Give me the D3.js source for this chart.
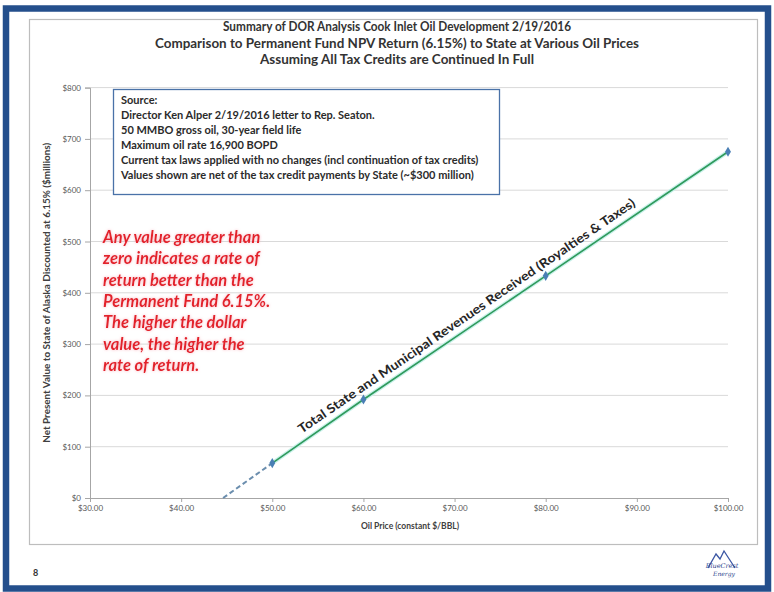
<!DOCTYPE html>
<html>
<head>
<meta charset="utf-8">
<script src="https://cdn.jsdelivr.net/npm/d3@7"></script>
<style>
  html, body { margin: 0; padding: 0; background: #ffffff; }
  svg { display: block; }
</style>
</head>
<body>
<svg id="chart" width="774" height="592"></svg>
<script>
// Oil price scenarios ($/BBL) and State NPV at 6.15% ($ millions)
const prices = [50, 60, 80, 100];
const npvValues = [68, 192, 433, 675];
// Price at which the State NPV reaches zero (dashed extension)
const breakEvenPrice = 44.6;

const xTickValues = [30, 40, 50, 60, 70, 80, 90, 100];
const yTickValues = [0, 100, 200, 300, 400, 500, 600, 700, 800];

const titleLines = [
  "Summary of DOR Analysis Cook Inlet Oil Development 2/19/2016",
  "Comparison to Permanent Fund NPV Return (6.15%) to State at Various Oil Prices",
  "Assuming All Tax Credits are Continued In Full"
];
const sourceLines = [
  "Source:",
  "Director Ken Alper 2/19/2016 letter to Rep. Seaton.",
  "50 MMBO gross oil, 30-year field life",
  "Maximum oil rate 16,900 BOPD",
  "Current tax laws applied with no changes (incl continuation of tax credits)",
  "Values shown are net of the tax credit payments by State (~$300 million)"
];
const noteLines = [
  "Any value greater than",
  "zero indicates a rate of",
  "return better than the",
  "Permanent Fund 6.15%.",
  "The higher the dollar",
  "value, the higher the",
  "rate of return."
];
const seriesLabel = "Total State and Municipal Revenues Received (Royalties & Taxes)";
const xAxisTitle = "Oil Price (constant $/BBL)";
const yAxisTitle = "Net Present Value to State of Alaska Discounted at 6.15% ($millions)";

const svg = d3.select("#chart");
const font = "Lato, 'Open Sans', sans-serif";

// Slide frame
svg.append("rect")
  .attr("x", 6).attr("y", 8.5).attr("width", 762).attr("height", 580)
  .attr("fill", "#ffffff").attr("stroke", "#244f8c").attr("stroke-width", 6.5);

// Chart area border
svg.append("rect")
  .attr("x", 29.5).attr("y", 19.5).attr("width", 728).attr("height", 525)
  .attr("fill", "#ffffff").attr("stroke", "#bdbdbd").attr("stroke-width", 1.2);

// Titles
const titleWidths = [348, 484, 274];
svg.append("g").selectAll("text").data(titleLines).join("text")
  .attr("x", 397).attr("y", (d, i) => 31 + i * 16.5)
  .attr("text-anchor", "middle")
  .attr("font-family", font).attr("font-weight", 700).attr("font-size", 12.5)
  .attr("fill", "#333333")
  .attr("textLength", (d, i) => titleWidths[i]).attr("lengthAdjust", "spacingAndGlyphs")
  .text(d => d);

// Scales
const x = d3.scaleLinear().domain([30, 100]).range([90, 728]);
const y = d3.scaleLinear().domain([0, 800]).range([498, 87.6]);

// Gridlines
svg.append("g").selectAll("line").data(yTickValues.filter(v => v > 0)).join("line")
  .attr("x1", x(30)).attr("x2", x(100))
  .attr("y1", d => y(d)).attr("y2", d => y(d))
  .attr("stroke", "#d9d9d9").attr("stroke-width", 1);

// Y axis
const yAxis = d3.axisLeft(y).tickValues(yTickValues).tickFormat(d3.format("$,")).tickSize(5).tickPadding(4);
const gy = svg.append("g").attr("transform", `translate(${x(30)},0)`).call(yAxis);
gy.select(".domain").attr("stroke", "#a6a6a6");
gy.selectAll(".tick line").attr("stroke", "#a6a6a6");
gy.selectAll(".tick text").attr("font-family", font).attr("font-size", 8).attr("fill", "#595959");

// X axis
const xAxis = d3.axisBottom(x).tickValues(xTickValues).tickFormat(d3.format("$.2f")).tickSize(4).tickPadding(3);
const gx = svg.append("g").attr("transform", `translate(0,${y(0)})`).call(xAxis);
gx.select(".domain").attr("stroke", "#a6a6a6");
gx.selectAll(".tick line").attr("stroke", "#a6a6a6");
gx.selectAll(".tick text").attr("font-family", font).attr("font-size", 8).attr("fill", "#595959");

// Axis titles
svg.append("text")
  .attr("x", (x(30) + x(100)) / 2 + 1).attr("y", 529)
  .attr("text-anchor", "middle")
  .attr("font-family", font).attr("font-weight", 700).attr("font-size", 8.5).attr("fill", "#404040")
  .text(xAxisTitle);
svg.append("text")
  .attr("transform", `translate(50,${(y(0) + y(800)) / 2}) rotate(-90)`)
  .attr("text-anchor", "middle")
  .attr("font-family", font).attr("font-weight", 700).attr("font-size", 8.5).attr("fill", "#404040")
  .attr("textLength", 300).attr("lengthAdjust", "spacingAndGlyphs")
  .text(yAxisTitle);

// Source text box
const box = svg.append("g");
box.append("rect")
  .attr("x", 113.5).attr("y", 89.5).attr("width", 386).attr("height", 105)
  .attr("fill", "#ffffff").attr("stroke", "#4a72a8").attr("stroke-width", 1.3);
box.selectAll("text").data(sourceLines).join("text")
  .attr("x", 121).attr("y", (d, i) => 104 + i * 15)
  .attr("font-family", font).attr("font-weight", 700).attr("font-size", 11)
  .attr("fill", "#2b2b2b")
  .text(d => d);

// Red note with a soft pink halo
const defs = svg.append("defs");
const glow = defs.append("filter").attr("id", "glow").attr("x", "-10%").attr("y", "-30%").attr("width", "120%").attr("height", "160%");
glow.append("feGaussianBlur").attr("in", "SourceAlpha").attr("stdDeviation", 1.8).attr("result", "b");
glow.append("feFlood").attr("flood-color", "#f7a8b4").attr("flood-opacity", 0.85);
glow.append("feComposite").attr("in2", "b").attr("operator", "in").attr("result", "g");
const gm = glow.append("feMerge");
gm.append("feMergeNode").attr("in", "g");
gm.append("feMergeNode").attr("in", "SourceGraphic");

svg.append("g").selectAll("text").data(noteLines).join("text")
  .attr("x", 103).attr("y", (d, i) => 243 + i * 21.3)
  .attr("font-family", font).attr("font-weight", 700).attr("font-style", "italic").attr("font-size", 16.5)
  .attr("fill", "#e3202c").attr("filter", "url(#glow)")
  .text(d => d);

// Dashed extension down to zero NPV
svg.append("line")
  .attr("x1", x(breakEvenPrice)).attr("y1", y(0))
  .attr("x2", x(prices[0])).attr("y2", y(npvValues[0]))
  .attr("stroke", "#6b8eae").attr("stroke-width", 2).attr("stroke-dasharray", "5,3");

// Revenue line
const pts = prices.map((p, i) => [x(p), y(npvValues[i])]);
const lineGen = d3.line();
svg.append("path").attr("d", lineGen(pts))
  .attr("fill", "none").attr("stroke", "#c9f1ea").attr("stroke-width", 4);
svg.append("path").attr("d", lineGen(pts))
  .attr("fill", "none").attr("stroke", "#2f9a5c").attr("stroke-width", 1.6);

// Diamond markers
svg.append("g").selectAll("path").data(pts).join("path")
  .attr("transform", d => `translate(${d[0]},${d[1]})`)
  .attr("d", d3.symbol(d3.symbolDiamond, 30))
  .attr("fill", "#4a7fb5");

// Series label laid along the line
const angle = Math.atan2(pts[pts.length - 1][1] - pts[0][1], pts[pts.length - 1][0] - pts[0][0]) * 180 / Math.PI;
const midX = 473;
const midY = y(npvValues[1]) + (midX - x(prices[1])) * (y(npvValues[2]) - y(npvValues[1])) / (x(prices[2]) - x(prices[1]));
const rad = angle * Math.PI / 180;
const off = 7;
svg.append("text")
  .attr("transform", `translate(${midX + off * Math.sin(rad)},${midY - off * Math.cos(rad)}) rotate(${angle})`)
  .attr("text-anchor", "middle")
  .attr("font-family", font).attr("font-weight", 700).attr("font-size", 12.5)
  .attr("fill", "#262626")
  .attr("textLength", 405).attr("lengthAdjust", "spacingAndGlyphs")
  .text(seriesLabel);

// Page number
svg.append("text").attr("x", 33).attr("y", 576)
  .attr("font-family", font).attr("font-weight", 700).attr("font-size", 9).attr("fill", "#333")
  .text("8");

// Company mark
const logo = svg.append("g").attr("transform", "translate(722,566)");
logo.append("path")
  .attr("d", "M-14,2 L-6,-12 L-2,-7 L2,-15 L13,2")
  .attr("fill", "none").attr("stroke", "#3b56a3").attr("stroke-width", 1.3);
logo.append("text").attr("x", 0).attr("y", 2).attr("text-anchor", "middle")
  .attr("font-family", "'DejaVu Serif', serif").attr("font-style", "italic").attr("font-size", 6.5).attr("fill", "#2b3f8c")
  .text("BlueCrest");
logo.append("text").attr("x", 2).attr("y", 10).attr("text-anchor", "middle")
  .attr("font-family", "'DejaVu Serif', serif").attr("font-style", "italic").attr("font-size", 6).attr("fill", "#2b3f8c")
  .text("Energy");
</script>
</body>
</html>
